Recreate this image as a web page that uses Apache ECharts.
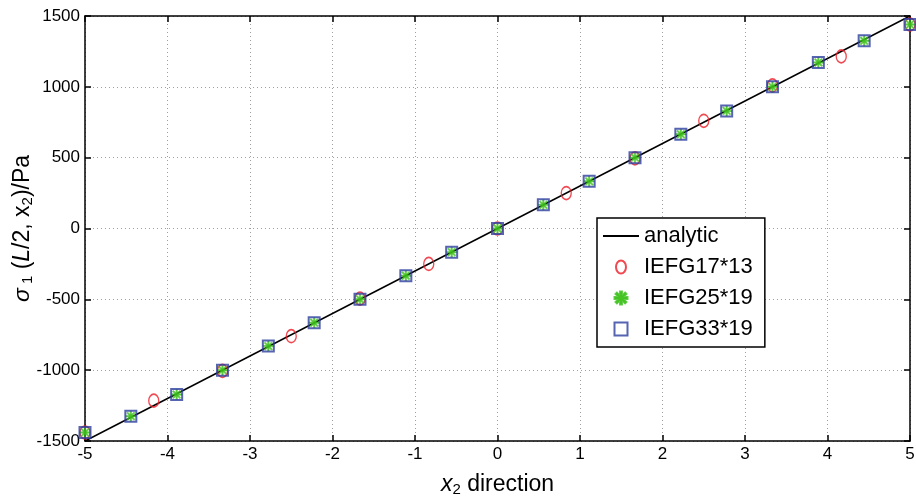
<!DOCTYPE html>
<html><head><meta charset="utf-8">
<script src="https://cdn.jsdelivr.net/npm/echarts@6/dist/echarts.min.js"></script>
<style>html,body{margin:0;padding:0;background:#fff}#c{width:916px;height:502px}</style>
</head><body><div id="c"></div>
<script>
// analytic solution line
const xLine = [-5, 5];
const yLine = [-1500, 1500];
// IEFG17*13 (13 nodes)
const xRed = [-5, -4.1667, -3.3333, -2.5, -1.6667, -0.8333, 0, 0.8333, 1.6667, 2.5, 3.3333, 4.1667, 5];
const yRed = [-1440, -1215, -1005, -760, -495, -250, 0, 250, 495, 760, 1010, 1215, 1440];
// IEFG25*19 and IEFG33*19 (19 nodes)
const x19 = [-5, -4.4444, -3.8889, -3.3333, -2.7778, -2.2222, -1.6667, -1.1111, -0.5556, 0, 0.5556, 1.1111, 1.6667, 2.2222, 2.7778, 3.3333, 3.8889, 4.4444, 5];
const yGreen = [-1440, -1325, -1172, -1000, -830, -665, -500, -333, -167, 0, 167, 333, 500, 665, 830, 1000, 1172, 1325, 1440];
const yBlue = [-1440, -1325, -1172, -1000, -830, -665, -500, -333, -167, 0, 167, 333, 500, 665, 830, 1000, 1172, 1325, 1440];
const xTicks = [-5, -4, -3, -2, -1, 0, 1, 2, 3, 4, 5];
const yTicks = [-1500, -1000, -500, 0, 500, 1000, 1500];

const FONT = 'Liberation Sans, Arial, sans-serif';
const zip = (xs, ys) => xs.map((x, i) => [x, ys[i]]);
const star = 'path://M8.5,0h3v20h-3z M0,8.5h20v3h-20z M1.6,3.7l2.1,-2.1l14.7,14.7l-2.1,2.1z M16.3,1.6l2.1,2.1l-14.7,14.7l-2.1,-2.1z';

const axisCommon = {
  axisLine: {show: true, onZero: false, lineStyle: {color: '#000', width: 1.5}},
  axisTick: {show: true, inside: true, length: 6, lineStyle: {color: '#000', width: 1.5}},
  nameMoveOverlap: false
};
const titleStyle = {color: '#000', fontSize: 23, fontFamily: FONT,
  rich: {it: {fontStyle: 'italic', fontSize: 23, fontFamily: FONT, color: '#000'},
         n: {fontSize: 23, fontFamily: FONT, color: '#000'},
         sub: {fontSize: 15, fontFamily: FONT, color: '#000', padding: [9, 0, 0, 0]}}};
const chart = echarts.init(document.getElementById('c'));
chart.setOption({
  animation: false,
  backgroundColor: '#fff',
  grid: {left: 85, right: 6, top: 16, bottom: 61, show: false, outerBoundsMode: 'none', containLabel: false},
  xAxis: [{
    type: 'value', min: xTicks[0], max: xTicks[xTicks.length - 1], interval: 1, position: 'bottom',
    ...axisCommon,
    axisLabel: {color: '#000', fontSize: 17, fontFamily: FONT, margin: 5, formatter: v => String(v)},
    splitLine: {show: true, lineStyle: {color: '#a0a0a0', width: 1, type: [1, 3]}},
    name: '{it|x}{sub|2}{n| direction}', nameLocation: 'middle', nameGap: 32,
    nameTextStyle: titleStyle
  }, {
    type: 'value', min: xTicks[0], max: xTicks[xTicks.length - 1], interval: 1, position: 'top',
    ...axisCommon, axisLabel: {show: false}, splitLine: {show: false}
  }],
  yAxis: [{
    type: 'value', min: yTicks[0], max: yTicks[yTicks.length - 1], interval: 500, position: 'left',
    ...axisCommon,
    axisLabel: {color: '#000', fontSize: 17, fontFamily: FONT, margin: 5, formatter: v => String(v)},
    splitLine: {show: true, lineStyle: {color: '#a0a0a0', width: 1, type: [1, 3]}},
    name: '{it|σ}{sub| 1}{n| (}{it|L}{n|/2, x}{sub|2}{n|)/Pa}', nameLocation: 'middle', nameGap: 50, nameRotate: 90,
    nameTextStyle: titleStyle
  }, {
    type: 'value', min: yTicks[0], max: yTicks[yTicks.length - 1], interval: 500, position: 'right',
    ...axisCommon, axisLabel: {show: false}, splitLine: {show: false}
  }],
  legend: {
    orient: 'vertical', left: 597, top: 218,
    backgroundColor: '#fff', borderColor: '#000', borderWidth: 1.5,
    padding: [7, 12, 7, 6], itemGap: 9, itemWidth: 36, itemHeight: 13,
    textStyle: {fontSize: 22, fontFamily: FONT, color: '#000'},
    data: [
      {name: 'analytic', icon: 'path://M0,0h36v2h-36z', itemStyle: {color: '#000'}},
      {name: 'IEFG17*13', icon: 'path://M5,0A5,6.5,0,1,1,4.99,0z'},
      {name: 'IEFG25*19', icon: star},
      {name: 'IEFG33*19', icon: 'path://M0,0h10v10h-10z'}
    ]
  },
  series: [{
    name: 'analytic', type: 'line', data: zip(xLine, yLine), symbol: 'none', showSymbol: false,
    lineStyle: {color: '#000', width: 1.5}, itemStyle: {color: '#000'}, z: 2
  }, {
    name: 'IEFG17*13', type: 'scatter', data: zip(xRed, yRed), symbol: 'circle', symbolSize: [10, 13],
    itemStyle: {color: 'rgba(0,0,0,0)', borderColor: '#ee1c25', borderWidth: 1.5}, z: 3
  }, {
    name: 'IEFG25*19', type: 'scatter', data: zip(x19, yGreen), symbol: star, symbolSize: 10,
    itemStyle: {color: '#3cc01a', borderColor: '#3cc01a', borderWidth: 0.5}, z: 4
  }, {
    name: 'IEFG33*19', type: 'scatter', data: zip(x19, yBlue), symbol: 'rect', symbolSize: 11,
    itemStyle: {color: 'rgba(0,0,0,0)', borderColor: '#2c3d9e', borderWidth: 2}, z: 5
  }]
});
</script></body></html>
